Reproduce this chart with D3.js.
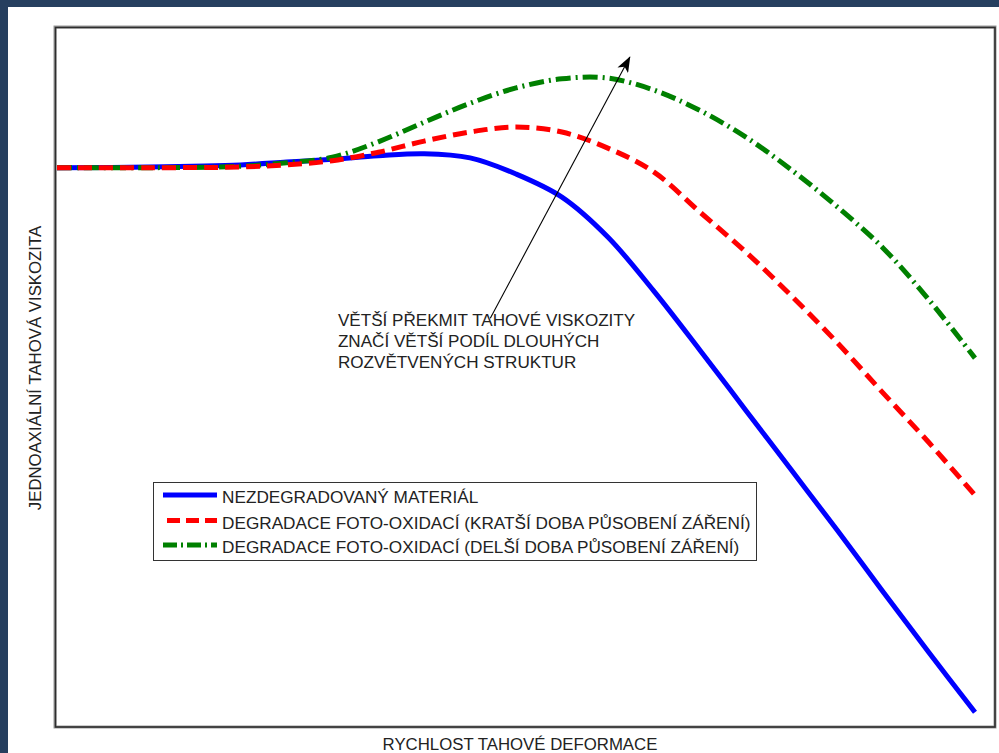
<!DOCTYPE html>
<html><head><meta charset="utf-8">
<script src="https://cdn.jsdelivr.net/npm/d3@7"></script>
<style>
html,body{margin:0;padding:0;background:#fff;}
svg{display:block;}
text{font-family:"Liberation Sans",Arial,sans-serif;fill:#222;}
</style></head>
<body>
<script>
// ---- data (arbitrary units; x = strain rate, y = extensional viscosity) ----
const xValues = [0,10,20,25,30,35,40,45,50,55,60,65,70,75,80,85,90,95,100];
const blueValues  = [79.9,80.0,80.3,80.7,81.1,81.6,81.9,81.3,79.0,75.7,70.0,62.3,53.9,45.3,36.7,28.1,19.3,10.6,2.1];
const redValues   = [79.9,79.9,80.0,80.3,80.9,82.1,83.7,85.0,85.7,85.0,82.7,79.3,73.6,67.9,61.6,54.9,47.7,40.6,33.1];
const greenValues = [79.9,79.9,80.1,80.6,81.4,83.6,86.4,89.1,91.3,92.6,92.7,91.0,88.1,84.3,79.6,74.3,68.4,61.0,52.7];
const seriesNames = [
  "NEZDEGRADOVANÝ MATERIÁL",
  "DEGRADACE FOTO-OXIDACÍ (KRATŠÍ DOBA PŮSOBENÍ ZÁŘENÍ)",
  "DEGRADACE FOTO-OXIDACÍ (DELŠÍ DOBA PŮSOBENÍ ZÁŘENÍ)"
];
const xAxisLabel = "RYCHLOST TAHOVÉ DEFORMACE";
const yAxisLabel = "JEDNOAXIÁLNÍ TAHOVÁ VISKOZITA";
const noteLines = ["VĚTŠÍ PŘEKMIT TAHOVÉ VISKOZITY","ZNAČÍ VĚTŠÍ PODÍL DLOUHÝCH","ROZVĚTVENÝCH STRUKTUR"];
const noteAnchor = [30.6, 57.3];
const arrowFrom = [47.2, 58.4];
const arrowTo = [62.4, 95.7];

// ---- layout ----
const W = 999, H = 753;
const frame = {x:55, y:27, w:940, h:700};
const svg = d3.select("body").append("svg").attr("width", W).attr("height", H);

// navy window border
svg.append("rect").attr("x",0).attr("y",0).attr("width",W).attr("height",7).attr("fill","#263f5f");
svg.append("rect").attr("x",0).attr("y",0).attr("width",8).attr("height",H).attr("fill","#263f5f");

const x = d3.scaleLinear().domain([0,100]).range([57,975]);
const y = d3.scaleLinear().domain([0,100]).range([727,27]);

// plot frame
svg.append("rect").attr("x",frame.x).attr("y",frame.y).attr("width",frame.w).attr("height",frame.h)
  .attr("fill","none").attr("stroke","#9a9a9a").attr("stroke-width",3);
svg.append("rect").attr("x",frame.x+0.5).attr("y",frame.y+0.5).attr("width",frame.w-0.5).attr("height",frame.h-0.5)
  .attr("fill","none").attr("stroke","#2e2e2e").attr("stroke-width",1.6);

const series = [
  {name:seriesNames[0], values:blueValues,  color:"#0000ff", dash:null},
  {name:seriesNames[1], values:redValues,   color:"#ff0000", dash:"14,7"},
  {name:seriesNames[2], values:greenValues, color:"#008000", dash:"15,5,2,5"}
];

const line = d3.line()
  .x((d,i)=>x(xValues[i]))
  .y(d=>y(d))
  .curve(d3.curveCatmullRom.alpha(0.5));

[series[0], series[2], series[1]].forEach(s=>{
  svg.append("path").attr("d", line(s.values))
    .attr("fill","none").attr("stroke",s.color).attr("stroke-width",5)
    .attr("stroke-dasharray", s.dash)
    .attr("stroke-linecap","butt").attr("stroke-linejoin","round");
});

// arrow
const defs = svg.append("defs");
defs.append("marker").attr("id","ah").attr("viewBox","0 0 16 12").attr("refX",15).attr("refY",6)
  .attr("markerWidth",16).attr("markerHeight",12).attr("markerUnits","userSpaceOnUse").attr("orient","auto")
  .append("path").attr("d","M0,0 L16,6 L0,12 L4,6 Z").attr("fill","#000");
svg.append("line")
  .attr("x1",x(arrowFrom[0])).attr("y1",y(arrowFrom[1]))
  .attr("x2",x(arrowTo[0])).attr("y2",y(arrowTo[1]))
  .attr("stroke","#000").attr("stroke-width",1.1).attr("marker-end","url(#ah)");

// annotation
const note = svg.append("text").attr("x",x(noteAnchor[0])).attr("y",y(noteAnchor[1]))
  .attr("font-size","17.1px");
noteLines.forEach((t,i)=>{
  note.append("tspan").attr("x",x(noteAnchor[0])).attr("dy", i===0?0:21).text(t);
});

// legend
const lg = svg.append("g");
lg.append("rect").attr("x",153.5).attr("y",482.5).attr("width",603).attr("height",78)
  .attr("fill","#fff").attr("stroke","#333").attr("stroke-width",1);
const legendRows = [495, 520.5, 545];
const legendStart = [163, 167, 163];
const legendDash = [null, "13,6", "14,4,2,4"];
series.forEach((s,i)=>{
  lg.append("line").attr("x1",legendStart[i]).attr("x2",217).attr("y1",legendRows[i]).attr("y2",legendRows[i])
    .attr("stroke",s.color).attr("stroke-width",5).attr("stroke-dasharray",legendDash[i]);
  lg.append("text").attr("x",222).attr("y",legendRows[i]+8).attr("font-size","17.2px").text(s.name);
});

// axis labels
svg.append("text").attr("x",520).attr("y",750).attr("text-anchor","middle").attr("font-size","16.8px").text(xAxisLabel);
svg.append("text").attr("transform","translate(41,368) rotate(-90)").attr("text-anchor","middle")
  .attr("font-size","16.8px").text(yAxisLabel);
</script>
</body></html>
